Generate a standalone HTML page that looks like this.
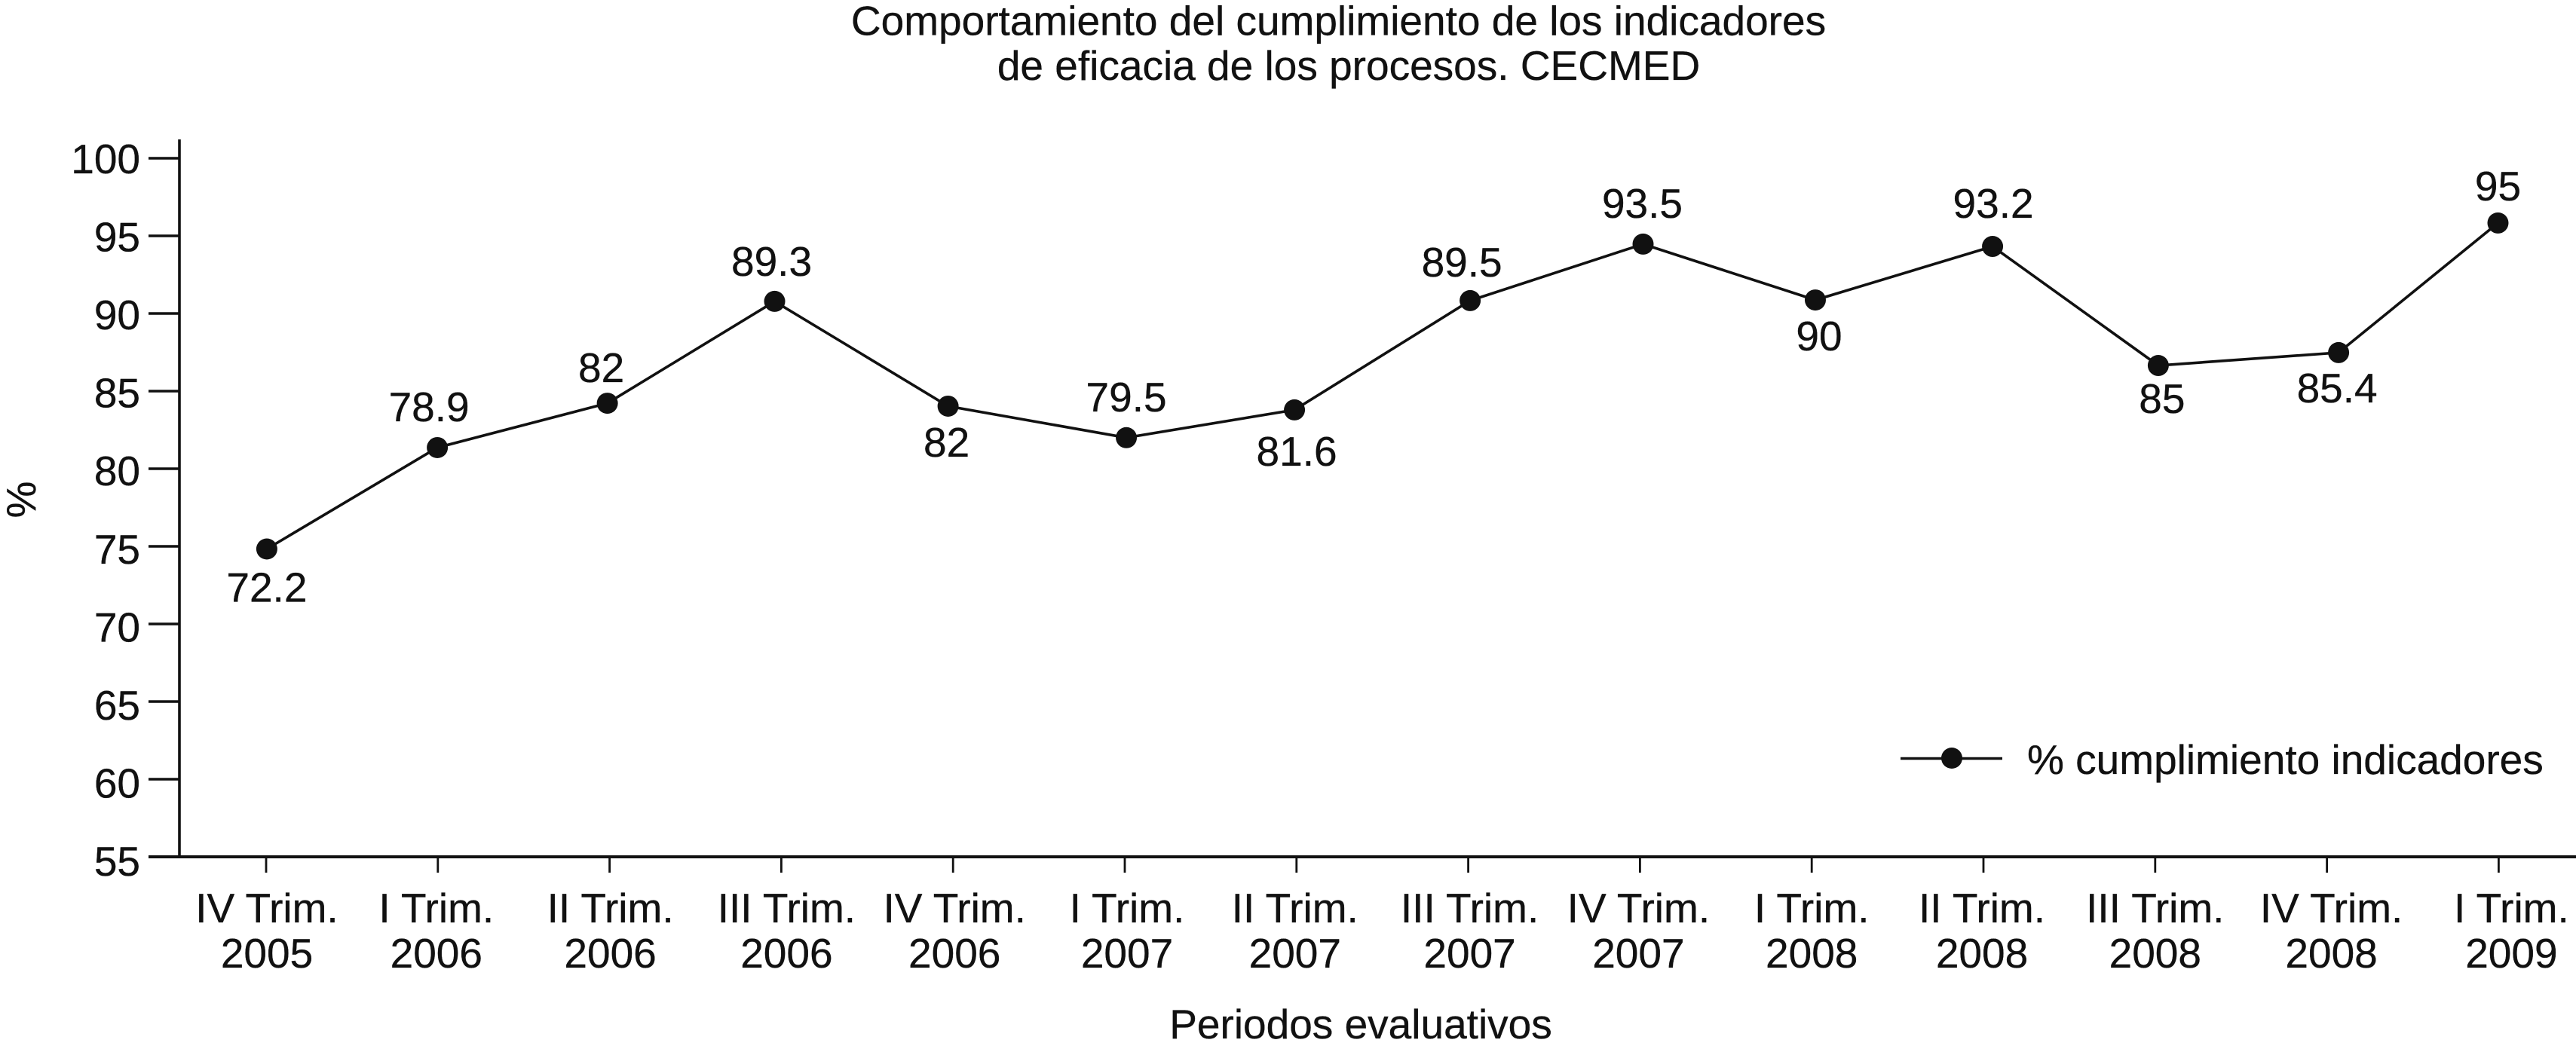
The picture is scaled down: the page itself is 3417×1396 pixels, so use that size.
<!DOCTYPE html>
<html lang="es">
<head>
<meta charset="utf-8">
<title>Comportamiento del cumplimiento de los indicadores</title>
<style>
  html, body { margin: 0; padding: 0; background: #fff; }
  body { width: 3417px; height: 1396px; overflow: hidden; }
  svg { display: block; }
  text { font-family: "Liberation Sans", Arial, sans-serif; font-size: 55px; fill: #111111; stroke: #111111; stroke-width: 0.35px; }
</style>
</head>
<body>
<svg id="chart" xmlns="http://www.w3.org/2000/svg" width="3417" height="1396" viewBox="0 0 3417 1396">
  <rect x="0" y="0" width="3417" height="1396" fill="#ffffff"></rect>
  <text x="1775.5" y="46.5" text-anchor="middle">Comportamiento del cumplimiento de los indicadores</text>
  <text x="1789" y="106" text-anchor="middle">de eficacia de los procesos. CECMED</text>
  <text x="1805" y="1378" text-anchor="middle">Periodos evaluativos</text>
  <text transform="translate(47,663) rotate(-90)" text-anchor="middle">%</text>
  <g id="axes"></g>
  <g id="series"></g>
  <g id="legend">
    <line x1="2521" y1="1006.5" x2="2656" y2="1006.5" stroke="#111111" stroke-width="3.6"></line>
    <circle cx="2589" cy="1006" r="14" fill="#111111"></circle>
    <text x="2689" y="1027">% cumplimiento indicadores</text>
  </g>
</svg>
<script>
// ----- chart data -----
const quarters = ["IV Trim.", "I Trim.", "II Trim.", "III Trim.", "IV Trim.", "I Trim.", "II Trim.", "III Trim.", "IV Trim.", "I Trim.", "II Trim.", "III Trim.", "IV Trim.", "I Trim."];
const years = ["2005", "2006", "2006", "2006", "2006", "2007", "2007", "2007", "2007", "2008", "2008", "2008", "2008", "2009"];
const yTicks = [55, 60, 65, 70, 75, 80, 85, 90, 95, 100];
// Heights of the plotted points, read against the y axis
const plottedValues = [74.83, 81.36, 84.22, 90.78, 84.03, 82.0, 83.79, 90.83, 94.47, 90.87, 94.32, 86.65, 87.48, 95.83];
// Printed value labels (differ from the plotted heights in the source figure)
const printedValues = ["72.2", "78.9", "82", "89.3", "82", "79.5", "81.6", "89.5", "93.5", "90", "93.2", "85", "85.4", "95"];
// Horizontal location of each point along the period axis, in period units
const periodLocations = [0.004, 0.997, 1.987, 2.961, 3.971, 5.009, 5.988, 7.011, 8.018, 9.021, 10.053, 11.018, 12.068, 12.996];

// ----- layout (not data) -----
const labelDx = [0, -11, -8, -4, -2, 0, 3, -11, -1, 5, 1, 5, -2, 0];
const labelDy = [70, -35, -28, -34, 67, -35, 74, -32, -35, 67, -38, 63, 66, -30];
const tickLabelNudge = [1, -2, 1, 7, 2, 3, -2, 2, -2, 0, -2, 0, 6, 17];

const INK = "#111111";
const NS = "http://www.w3.org/2000/svg";
const xScale = function (p) { return 353 + 227.8 * p; };
const yScale = function (v) { return 1137 - (v - 55) * 20.6; };

function make(tag, parent, props, content) {
  const el = document.createElementNS(NS, tag);
  Object.keys(props).forEach(function (k) { el.setAttribute(k, props[k]); });
  if (content !== undefined) el.textContent = content;
  parent.appendChild(el);
  return el;
}

const axes = document.getElementById("axes");
const series = document.getElementById("series");

let el = make("line", axes, { x1: 238, y1: 185, x2: 238, y2: 1138.5, stroke: INK, "stroke-width": 3.6 });



el = make("line", axes, { x1: 197, y1: 1137, x2: 3417, y2: 1137, stroke: INK, "stroke-width": 4 });



yTicks.forEach(function (v) {
  const y = yScale(v);
  const tick = make("line", axes, { x1: 197, y1: y, x2: 238, y2: y, stroke: INK, "stroke-width": 3.6 });
  
  
  const label = make("text", axes, { x: 186, y: y + 20 + (100 - v) * 0.111, "text-anchor": "end" }, String(v));
  
  
});

quarters.forEach(function (q, i) {
  const x = xScale(i);
  const tick = make("line", axes, { x1: x, y1: 1137, x2: x, y2: 1158, stroke: INK, "stroke-width": 2.8 });
  
  
  const cx = x + tickLabelNudge[i];
  const qLabel = make("text", axes, { x: cx, y: 1224, "text-anchor": "middle" }, q);
  
  
  const yLabel = make("text", axes, { x: cx, y: 1284, "text-anchor": "middle" }, years[i]);
  
  
});

const pointList = plottedValues.map(function (v, i) {
  return xScale(periodLocations[i]) + "," + yScale(v);
}).join(" ");
const path = make("polyline", series, { points: pointList, fill: "none", stroke: INK, "stroke-width": 3.6, "stroke-linejoin": "miter" });



plottedValues.forEach(function (v, i) {
  const px = xScale(periodLocations[i]);
  const py = yScale(v);
  const dot = make("circle", series, { cx: px, cy: py, r: 14, fill: INK });
  
  
  const txt = make("text", series, { x: px + labelDx[i], y: py + labelDy[i], "text-anchor": "middle" }, printedValues[i]);
  
  
});
</script>
</body>
</html>
